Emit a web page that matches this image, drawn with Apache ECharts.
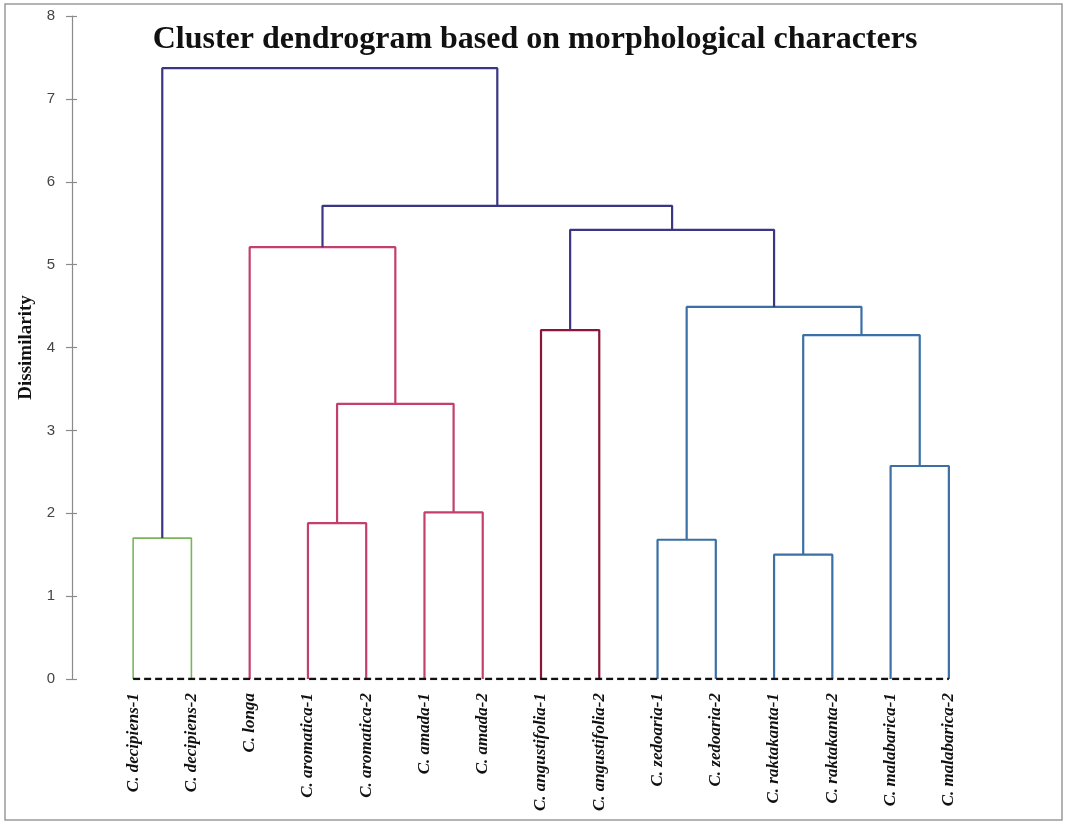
<!DOCTYPE html>
<html>
<head>
<meta charset="utf-8">
<script src="https://cdn.jsdelivr.net/npm/echarts@6/dist/echarts.min.js"></script>
<style>html,body{margin:0;padding:0;background:#fff;}#c{width:1070px;height:823px;}</style>
</head>
<body>
<div id="c"></div>
<script>
// ---- data ----
const leaves = ['C. decipiens-1','C. decipiens-2','C. longa','C. aromatica-1','C. aromatica-2','C. amada-1','C. amada-2','C. angustifolia-1','C. angustifolia-2','C. zedoaria-1','C. zedoaria-2','C. raktakanta-1','C. raktakanta-2','C. malabarica-1','C. malabarica-2'];
// merge nodes numbered from 15 upward; children refer to leaf index or merge node id
const mergeLeft  = [0, 3, 5, 16, 2, 7, 9, 11, 13, 22, 21, 20, 19, 15];
const mergeRight = [1, 4, 6, 17, 18, 8, 10, 12, 14, 23, 24, 25, 26, 27];
const mergeHeight = [1.70, 1.88, 2.01, 3.32, 5.21, 4.21, 1.68, 1.50, 2.57, 4.15, 4.49, 5.42, 5.71, 7.37];
const mergeGroup = ['green','pink','pink','pink','pink','darkred','blue','blue','blue','blue','blue','navy','navy','navy'];
const yTicks = [0,1,2,3,4,5,6,7,8];

// ---- styles ----
const groupColor = {green:'#7ab55c', pink:'#c2406b', darkred:'#8a1538', blue:'#3a70a6', navy:'#3b3584'};

const n = leaves.length;
const nodeX = [], nodeY = [];
for (let i = 0; i < n; i++) { nodeX[i] = i; nodeY[i] = 0; }
const series = [];
mergeLeft.forEach((l, k) => {
  const r = mergeRight[k], h = mergeHeight[k], id = n + k;
  nodeX[id] = (nodeX[l] + nodeX[r]) / 2; nodeY[id] = h;
  series.push({
    type: 'line', xAxisIndex: 0, yAxisIndex: 0, symbol: 'none', silent: true,
    data: [[nodeX[l], nodeY[l]], [nodeX[l], h], [nodeX[r], h], [nodeX[r], nodeY[r]]],
    lineStyle: {color: groupColor[mergeGroup[k]], width: mergeGroup[k]==='green' ? 1.6 : 2.2},
    z: 3
  });
});
series.push({
  type: 'line', xAxisIndex: 0, yAxisIndex: 0, symbol: 'none', silent: true,
  data: [[0, 0], [n - 1, 0]],
  lineStyle: {color: '#111', width: 2.5, type: [7, 4]}, z: 4
});

const chart = echarts.init(document.getElementById('c'), null, {renderer: 'canvas'});
chart.setOption({
  animation: false,
  backgroundColor: '#fff',
  title: {
    text: 'Cluster dendrogram based on morphological characters',
    left: 'center', top: 19,
    textStyle: {fontFamily: 'Liberation Serif', fontWeight: 'bold', fontSize: 32, color: '#111'}
  },
  graphic: [{
    type: 'rect', shape: {x: 5, y: 4, width: 1057, height: 816},
    style: {fill: 'none', stroke: '#9a9a9a', lineWidth: 1.5}, silent: true
  }],
  grid: {left: 104, right: 1070 - 978, top: 16, bottom: 144},
  xAxis: [{
    type: 'value', min: -0.5, max: n - 0.5, show: false
  }, {
    type: 'category', data: leaves, boundaryGap: true, position: 'bottom',
    axisLine: {show: false}, axisTick: {show: false}, splitLine: {show: false},
    axisLabel: {rotate: 90, margin: 14, interval: 0, fontFamily: 'Liberation Serif', fontWeight: 'bold', fontStyle: 'italic', fontSize: 17, color: '#111'}
  }],
  yAxis: [{
    type: 'value', min: 0, max: 8, interval: 1, offset: 32, position: 'left',
    name: 'Dissimilarity', nameLocation: 'middle', nameGap: 32, nameRotate: 90,
    nameTextStyle: {fontFamily: 'Liberation Serif', fontWeight: 'bold', fontSize: 19, color: '#111'},
    axisLine: {show: true, onZero: false, lineStyle: {color: '#8a8a8a', width: 1.2}},
    axisTick: {show: true, inside: false, length: 6, lineStyle: {color: '#8a8a8a', width: 1.2}},
    axisLabel: {margin: 17, fontFamily: 'Liberation Sans', fontSize: 15, color: '#444',
      formatter: v => yTicks.includes(v) ? String(v) : ''},
    splitLine: {show: false}
  }, {
    type: 'value', min: 0, max: 8, interval: 1, offset: 32, position: 'left',
    axisLine: {show: false, onZero: false},
    axisTick: {show: true, inside: true, length: 5, lineStyle: {color: '#8a8a8a', width: 1.2}},
    axisLabel: {show: false}, splitLine: {show: false}
  }],
  series: series
});
</script>
</body>
</html>
